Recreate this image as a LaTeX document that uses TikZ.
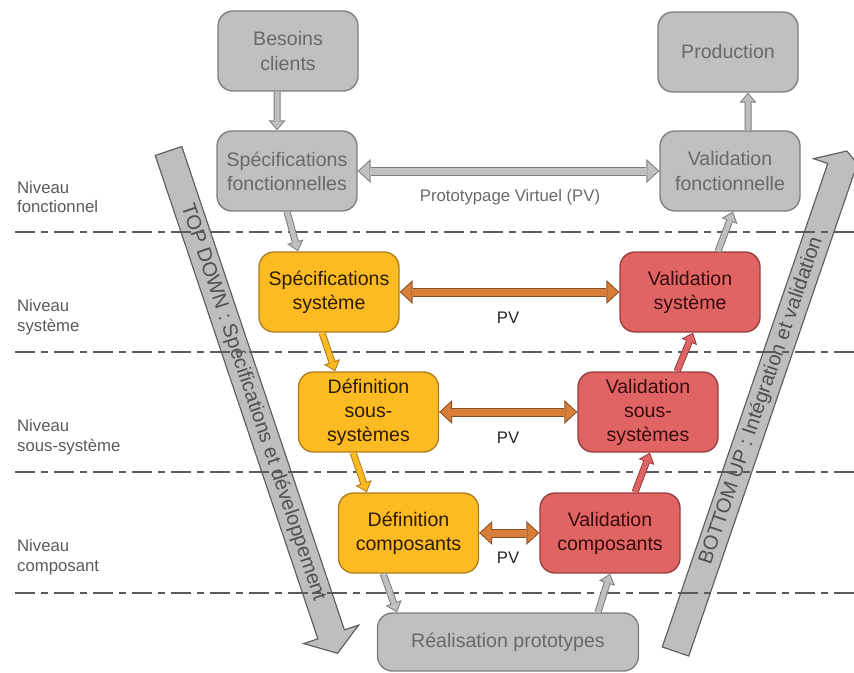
\documentclass[tikz,border=0pt]{standalone}
\usepackage{fontspec}
\setmainfont{Liberation Sans}
\usetikzlibrary{arrows.meta}

\definecolor{grisfond}{RGB}{192,192,192}
\definecolor{grisbord}{RGB}{125,125,125}
\definecolor{gristexte}{RGB}{105,105,105}
\definecolor{jaunefond}{RGB}{252,186,35}
\definecolor{jaunebord}{RGB}{175,125,30}
\definecolor{jaunetexte}{RGB}{45,28,0}
\definecolor{rougefond}{RGB}{224,100,100}
\definecolor{rougebord}{RGB}{150,62,62}
\definecolor{rougetexte}{RGB}{55,12,12}
\definecolor{orangefond}{RGB}{214,126,58}
\definecolor{orangebord}{RGB}{135,78,35}
\definecolor{bandefond}{RGB}{190,190,190}
\definecolor{bandebord}{RGB}{95,95,95}
\definecolor{bandetexte}{RGB}{80,80,80}
\definecolor{trait}{RGB}{90,90,90}

\begin{document}
\begin{tikzpicture}
  [x=0.3mm, y=-0.3mm,
    boite/.style={%
      rectangle, rounded corners=4.5mm, draw, line width=0.4mm,
      minimum width=42mm, minimum height=24mm, inner sep=1mm,
      align=center, font=\fontsize{16.7}{20.5}\selectfont
    },
    gris/.style={boite, fill=grisfond, draw=grisbord, text=gristexte},
    jaune/.style={boite, fill=jaunefond, draw=jaunebord, text=jaunetexte},
    rouge/.style={boite, fill=rougefond, draw=rougebord, text=rougetexte},
    bloc/.style 2 args={%
      line width=1.5mm, draw=#1, shorten >=0.46mm,
      -{Triangle[width=3.8mm,length=2.24mm,line width=0pt]},
      preaction={draw=#2, line width=2.1mm, shorten >=0pt,
        -{Triangle[width=5.1mm,length=3mm,line width=0pt]}}
    },
    dbloc/.style 2 args={%
      line width=2.1mm, draw=#1, shorten <=0.44mm, shorten >=0.44mm,
      {Triangle[width=5.83mm,length=3.16mm,line width=0pt]}-{Triangle[width=5.83mm,length=3.16mm,line width=0pt]},
      preaction={draw=#2, line width=2.7mm, shorten <=0pt, shorten >=0pt,
        {Triangle[width=7.2mm,length=3.9mm,line width=0pt]}-{Triangle[width=7.2mm,length=3.9mm,line width=0pt]}}
    },
    bande/.style={fill=bandefond, draw=bandebord, line width=0.35mm},
    bandetxt/.style={text=bandetexte, font=\fontsize{17.2}{20}\selectfont},
    niveau/.style={draw=trait, line width=0.35mm,
      dash pattern=on 6mm off 1.8mm on 2.1mm off 1.8mm},
    etiquette/.style={anchor=west, align=left, text=trait,
      font=\fontsize{14.3}{17}\selectfont},
    pv/.style={text=black!85, font=\fontsize{14.3}{17}\selectfont},
  ]

  \useasboundingbox (0,0) rectangle (854,673);

  \begin{scope}[shift={(168.5,151)}, rotate=-71.4, x=0.3mm, y=0.3mm]
    \draw[bande] (0,14) -- (510,14) -- (510,29) -- (530,0) -- (510,-29)
      -- (510,-14) -- (0,-14) -- cycle;
    \node[bandetxt, rotate=-71.4] (topdown) at (265,0)
      {TOP DOWN : Spécifications et développement};
  \end{scope}

  \begin{scope}[shift={(675.5,651.5)}, rotate=71.1, x=0.3mm, y=0.3mm]
    \draw[bande] (0,14) -- (511,14) -- (511,29) -- (529,0) -- (511,-29)
      -- (511,-14) -- (0,-14) -- cycle;
    \node[bandetxt, rotate=71.1] (bottomup) at (265,0)
      {BOTTOM UP : Intégration et validation};
  \end{scope}

  \foreach \y in {232,352,472,593}
    \draw[niveau] (15,\y) -- (854,\y);

  \node[etiquette] (nfonc) at (13,197) {Niveau\\fonctionnel};
  \node[etiquette] (nsys) at (13,317) {Niveau\\système};
  \node[etiquette] (nsous) at (13,437) {Niveau\\sous-système};
  \node[etiquette] (ncomp) at (13,557) {Niveau\\composant};

  \node[gris] (besoins) at (288,51) {Besoins\\clients};
  \node[gris] (production) at (728,52) {Production};
  \node[gris] (specfonc) at (287,171) {Spécifications\\fonctionnelles};
  \node[gris] (valfonc) at (730,171) {Validation\\fonctionnelle};
  \node[jaune] (specsys) at (329,292) {Spécifications\\système};
  \node[rouge] (valsys) at (690,292) {Validation\\système};
  \node[jaune] (defsous) at (368.5,412) {Définition\\sous-\\systèmes};
  \node[rouge] (valsous) at (648,412) {Validation\\sous-\\systèmes};
  \node[jaune] (defcomp) at (408.5,533) {Définition\\composants};
  \node[rouge] (valcomp) at (610,533) {Validation\\composants};
  \node[gris, minimum width=78.3mm, minimum height=17.4mm]
    (realisation) at (508,642) {Réalisation prototypes};

  \draw[bloc={grisfond}{grisbord}] ([xshift=-3.3mm]besoins.south) -- ([xshift=-3mm]specfonc.north);
  \draw[bloc={grisfond}{grisbord}] (specfonc.south) -- ([xshift=-9.3mm]specsys.north);
  \draw[bloc={jaunefond}{jaunebord}] ([xshift=-2.1mm]specsys.south) -- ([xshift=-10mm]defsous.north);
  \draw[bloc={jaunefond}{jaunebord}] ([xshift=-4.6mm]defsous.south) -- ([xshift=-12.5mm]defcomp.north);
  \draw[bloc={grisfond}{grisbord}] ([xshift=-7.6mm]defcomp.south) -- ([xshift=-33.3mm]realisation.north);
  \draw[bloc={grisfond}{grisbord}] ([xshift=27mm]realisation.north) -- (valcomp.south);
  \draw[bloc={rougefond}{rougebord}] ([xshift=7.5mm]valcomp.north) -- ([xshift=0.6mm]valsous.south);
  \draw[bloc={rougefond}{rougebord}] ([xshift=8.7mm]valsous.north) -- ([xshift=0.9mm]valsys.south);
  \draw[bloc={grisfond}{grisbord}] ([xshift=8.4mm]valsys.north) -- ([xshift=0.9mm]valfonc.south);
  \draw[bloc={grisfond}{grisbord}] ([xshift=5.4mm]valfonc.north) -- ([xshift=6mm]production.south);

  \draw[dbloc={grisfond}{grisbord}] (specfonc.east) -- (valfonc.west);
  \draw[dbloc={orangefond}{orangebord}] (specsys.east) -- (valsys.west);
  \draw[dbloc={orangefond}{orangebord}] (defsous.east) -- (valsous.west);
  \draw[dbloc={orangefond}{orangebord}] (defcomp.east) -- (valcomp.west);

  \node[pv, text=gristexte] (pvfonc) at (510,197) {Prototypage Virtuel (PV)};
  \node[pv] (pvsys) at (508,318) {PV};
  \node[pv] (pvsous) at (508,438) {PV};
  \node[pv] (pvcomp) at (508,558) {PV};

\end{tikzpicture}
\end{document}
